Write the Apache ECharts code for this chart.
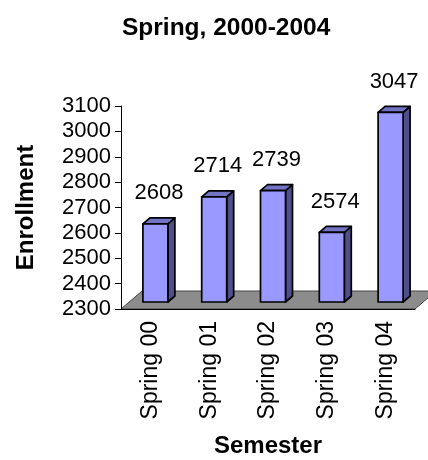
<!DOCTYPE html>
<html>
<head>
<meta charset="utf-8">
<script src="https://cdn.jsdelivr.net/npm/echarts@6/dist/echarts.min.js"></script>
<style>
  html, body { margin: 0; padding: 0; background: #fff; }
  #chart { width: 428px; height: 460px; }
</style>
</head>
<body>
<div id="chart"></div>
<script>
let semesters = ['Spring 00', 'Spring 01', 'Spring 02', 'Spring 03', 'Spring 04'];
let enrollment = [2608, 2714, 2739, 2574, 3047];
let yMin = 2300;
let yMax = 3100;
let yStep = 100;

let font = 'Liberation Sans, Arial, sans-serif';
let depthX = 7, depthY = 6;   // 3d depth of each bar
let shiftX = 5, shiftY = -7;  // bars stand in the middle of the floor

let myChart = echarts.init(document.getElementById('chart'));

function renderFloor(params, api) {
    let cs = params.coordSys;
    let fx = cs.x, fy = cs.y + cs.height;
    return {
        type: 'polygon',
        shape: { points: [[fx, fy], [fx + cs.width, fy], [fx + cs.width + 21, fy - 18], [fx + 21, fy - 18]] },
        style: { fill: '#8c8c8c', stroke: '#444', lineWidth: 1 }
    };
}

function renderBar(params, api) {
    let base = api.coord([api.value(0), yMin]);
    let top = api.coord([api.value(0), api.value(1)]);
    let w = api.size([1, 0])[0] * 0.425;
    let x0 = base[0] + shiftX - w / 2;
    let x1 = x0 + w;
    let yb = base[1] + shiftY;
    let yt = top[1] + shiftY;
    let edge = { stroke: '#000', lineWidth: 1.7, lineJoin: 'round' };
    return {
        type: 'group',
        children: [
            {
                type: 'polygon',
                shape: { points: [[x1, yt], [x1 + depthX, yt - depthY], [x1 + depthX, yb - depthY], [x1, yb]] },
                style: Object.assign({ fill: '#4f4f8c' }, edge)
            },
            {
                type: 'polygon',
                shape: { points: [[x0, yt], [x1, yt], [x1 + depthX, yt - depthY], [x0 + depthX, yt - depthY]] },
                style: Object.assign({ fill: '#7373c6' }, edge)
            },
            {
                type: 'rect',
                shape: { x: x0, y: yt, width: w, height: yb - yt },
                style: Object.assign({ fill: '#9999ff' }, edge)
            },
            {
                type: 'text',
                x: (x0 + x1 + depthX) / 2,
                y: yt - depthY - 14,
                style: {
                    text: String(api.value(1)),
                    fill: '#000',
                    font: '22px ' + font,
                    align: 'center',
                    verticalAlign: 'bottom'
                }
            }
        ]
    };
}

let option = {
    animation: false,
    title: {
        text: 'Spring, 2000-2004',
        left: 117,
        top: 11,
        textStyle: { fontFamily: font, fontSize: 24.5, fontWeight: 'bold', color: '#000' }
    },
    grid: {
        left: 121,
        right: 13,
        top: 106,
        bottom: 151
    },
    xAxis: {
        type: 'category',
        data: semesters,
        name: 'Semester',
        nameLocation: 'middle',
        nameGap: 125,
        nameTextStyle: { fontFamily: font, fontSize: 24, fontWeight: 'bold', color: '#000' },
        axisLine: { lineStyle: { color: '#000', width: 1 } },
        axisTick: { length: 6, lineStyle: { color: '#000' } },
        axisLabel: { rotate: 90, margin: 12, fontFamily: font, fontSize: 23, color: '#000' }
    },
    yAxis: {
        type: 'value',
        min: yMin,
        max: yMax,
        interval: yStep,
        name: 'Enrollment',
        nameLocation: 'middle',
        nameGap: 83,
        nameTextStyle: { fontFamily: font, fontSize: 24, fontWeight: 'bold', color: '#000' },
        axisLine: { show: true, lineStyle: { color: '#000', width: 1 } },
        axisTick: { show: true, length: 6, lineStyle: { color: '#000' } },
        axisLabel: { margin: 10, fontFamily: font, fontSize: 22, color: '#000', formatter: v => String(v) },
        splitLine: { show: false }
    },
    series: [
        {
            type: 'custom',
            z: -1,
            silent: true,
            renderItem: renderFloor,
            data: [[0, yMin]]
        },
        {
            type: 'custom',
            name: 'Enrollment',
            renderItem: renderBar,
            encode: { x: 0, y: 1 },
            data: enrollment.map((v, i) => [i, v])
        }
    ]
};

myChart.setOption(option);
</script>
</body>
</html>
